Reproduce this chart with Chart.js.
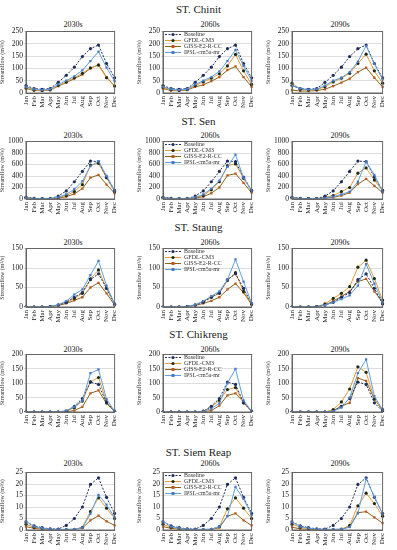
<!DOCTYPE html>
<html>
<head>
<meta charset="utf-8">
<script src="https://cdn.jsdelivr.net/npm/chart.js@4.4.0/dist/chart.umd.min.js"></script>
<style>
  body { margin: 0; background: #fff; width: 397px; height: 550px; position: relative; overflow: hidden; font-family: 'Liberation Serif', serif; }
  .station { position: absolute; left: 0; width: 397px; text-align: center; font-size: 11px; font-weight: normal; color: #222; }
  .period { position: absolute; font-size: 8px; font-weight: normal; color: #222; text-align: center; }
  canvas { position: absolute; }
</style>
</head>
<body>
<script>
const months = ['Jan','Feb','Mar','Apr','May','Jun','Jul','Aug','Sep','Oct','Nov','Dec'];
const periods = ['2030s','2060s','2090s'];
const stations = ['ST. Chinit','ST. Sen','ST. Staung','ST. Chikreng','ST. Siem Reap'];
const seriesNames = ['Baseline','GFDL-CM3','GISS-E2-R-CC','IPSL-cm5a-mr'];
const yMax = [250, 1000, 150, 200, 25];
const yStep = [50, 200, 50, 50, 5];

// baseline per station
const chinitBase = [30,18,15,18,43,72,105,148,180,195,120,62];
const senBase = [30,10,5,5,50,140,300,480,660,650,380,150];
const staungBase = [0,0,0,1,5,12,25,37,70,85,48,8];
const chikrengBase = [0,0,0,0,0,2,20,47,104,96,32,3];
const siemBase = [3.5,1.8,1.0,0.5,0.4,2,5,10,19.8,22.7,14.2,7.2];

// future series per station: [2030s, 2060s, 2090s]
const chinitGfdl = [
  [20,12,10,13,30,45,62,80,102,113,62,28],
  [22,13,11,14,30,45,60,78,110,157,90,35],
  [40,15,12,14,25,45,60,80,120,158,90,40]];
const chinitGiss = [
  [18,10,9,12,28,42,58,75,100,115,65,28],
  [18,10,9,12,25,33,48,65,93,108,65,25],
  [12,8,8,10,15,28,42,58,85,103,62,25]];
const chinitIpsl = [
  [25,15,12,15,35,50,68,92,130,168,103,48],
  [25,15,12,15,35,50,65,88,130,175,110,50],
  [30,18,14,16,30,50,62,85,128,192,118,55]];

const senGfdl = [
  [25,8,5,5,25,60,130,250,590,620,370,130],
  [25,8,5,5,25,60,160,300,580,610,360,140],
  [25,8,5,5,30,60,130,200,450,540,330,140]];
const senGiss = [
  [20,5,3,3,15,40,90,180,370,420,250,100],
  [20,5,3,3,15,40,100,200,410,440,280,110],
  [20,5,3,3,15,30,60,110,260,350,230,110]];
const senIpsl = [
  [25,8,5,5,30,80,170,310,570,660,400,150],
  [25,8,5,5,30,80,180,320,560,770,370,150],
  [25,8,5,5,20,40,80,130,300,650,420,130]];

const staungGfdl = [
  [0,0,0,1,5,12,22,35,72,95,48,7],
  [0,0,0,1,5,14,25,35,68,88,40,8],
  [0,0,0,1,8,22,35,52,102,120,73,18]];
const staungGiss = [
  [0,0,0,1,4,9,17,25,50,62,35,5],
  [0,0,0,1,4,9,16,25,45,60,37,6],
  [0,0,0,1,5,15,27,40,65,72,40,12]];
const staungIpsl = [
  [0,0,0,1,6,15,32,45,82,118,55,8],
  [0,0,0,1,6,15,28,40,70,122,65,10],
  [0,0,0,1,5,12,20,30,55,110,60,12]];

const chikrengGfdl = [
  [0,0,0,0,0,3,15,38,105,120,35,3],
  [0,0,0,0,0,3,18,40,78,85,32,3],
  [0,0,0,0,0,8,35,80,157,138,45,8]];
const chikrengGiss = [
  [0,0,0,0,0,1,5,18,65,75,30,2],
  [0,0,0,0,0,1,5,22,58,65,35,2],
  [0,0,0,0,0,5,20,32,118,108,45,5]];
const chikrengIpsl = [
  [0,0,0,0,0,5,18,40,135,148,45,3],
  [0,0,0,0,0,2,12,30,100,150,40,3],
  [0,0,0,0,0,3,15,50,135,183,55,8]];

const siemGfdl = [
  [2.5,1.2,0.6,0.3,0.2,0.2,0.3,1.2,8,14,9.5,5],
  [2.5,1.2,0.6,0.3,0.2,0.2,0.3,1.5,9.2,14,9.5,5],
  [2.5,1.2,0.6,0.3,0.2,0.2,0.4,2,10.5,16,11.5,6]];
const siemGiss = [
  [1.5,0.7,0.4,0.2,0.1,0.1,0.2,0.8,4.2,6.2,3.8,2],
  [1.5,0.7,0.4,0.2,0.1,0.1,0.2,1,6,7.2,4.2,2],
  [1.2,0.5,0.3,0.2,0.1,0.1,0.2,1.5,7.5,8,5.5,3]];
const siemIpsl = [
  [3.8,1.5,0.8,0.4,0.3,0.3,0.4,1.0,7,15.3,11,5.5],
  [3.8,1.5,0.8,0.4,0.3,0.3,0.4,1.5,6,18.7,13.5,6.5],
  [3.5,1.5,0.8,0.4,0.3,0.3,0.4,1.2,7.2,22.3,14.5,7]];

const baseAll = [chinitBase, senBase, staungBase, chikrengBase, siemBase];
const gfdlAll = [chinitGfdl, senGfdl, staungGfdl, chikrengGfdl, siemGfdl];
const gissAll = [chinitGiss, senGiss, staungGiss, chikrengGiss, siemGiss];
const ipslAll = [chinitIpsl, senIpsl, staungIpsl, chikrengIpsl, siemIpsl];

// layout: plot area edges
const colL = [26, 163, 292];
const colR = [120, 257, 388];
const rowT = [31, 141, 248, 354, 472];
const rowB = [93, 199, 307, 412, 530];
const stationY = [3, 115, 221, 328, 446];
const periodY = [20, 131, 238, 345, 459];

const styles = [
  { line: '#1f2d5a', point: '#1f2d5a', dash: [2, 1.5], shape: 'circle' },
  { line: '#e39b3a', point: '#1e2a14', dash: [], shape: 'circle' },
  { line: '#8a6418', point: '#c0561c', dash: [], shape: 'rect' },
  { line: '#5fa0dc', point: '#4a78c8', dash: [], shape: 'rect' }
];

const serif = "'Liberation Serif', 'DejaVu Serif', serif";

const legendInside = {
  id: 'legendInside',
  afterDatasetsDraw(chart, args, opts) {
    if (!opts.show) return;
    const ctx = chart.ctx;
    const a = chart.chartArea;
    ctx.save();
    ctx.font = '6px ' + serif;
    ctx.textBaseline = 'middle';
    chart.data.datasets.forEach((ds, i) => {
      const y = a.top + 3 + i * 6;
      const x0 = a.left + 2, x1 = a.left + 18;
      ctx.strokeStyle = ds.borderColor;
      ctx.lineWidth = 1;
      ctx.setLineDash(ds.borderDash || []);
      ctx.beginPath(); ctx.moveTo(x0, y); ctx.lineTo(x1, y); ctx.stroke();
      ctx.setLineDash([]);
      ctx.fillStyle = ds.pointBackgroundColor;
      const cx = (x0 + x1) / 2;
      if (ds.pointStyle === 'rect') ctx.fillRect(cx - 1.5, y - 1.5, 3, 3);
      else { ctx.beginPath(); ctx.arc(cx, y, 1.6, 0, Math.PI * 2); ctx.fill(); }
      ctx.fillStyle = '#333';
      ctx.fillText(ds.label, x1 + 3, y);
    });
    ctx.restore();
  }
};

const yW = 27, padTop = 5, padRight = 4, xH = 20;

stations.forEach((name, r) => {
  const st = document.createElement('div');
  st.className = 'station';
  st.style.top = stationY[r] + 'px';
  st.textContent = name;
  document.body.appendChild(st);

  periods.forEach((p, c) => {
    const L = colL[c], R = colR[c], T = rowT[r], B = rowB[r];

    const pt = document.createElement('div');
    pt.className = 'period';
    pt.style.left = L + 'px';
    pt.style.width = (R - L) + 'px';
    pt.style.top = periodY[r] + 'px';
    pt.textContent = p;
    document.body.appendChild(pt);

    const cv = document.createElement('canvas');
    cv.width = (R - L) + yW + padRight;
    cv.height = (B - T) + padTop + xH;
    cv.style.left = (L - yW) + 'px';
    cv.style.top = (T - padTop) + 'px';
    document.body.appendChild(cv);

    const series = [baseAll[r], gfdlAll[r][c], gissAll[r][c], ipslAll[r][c]];
    const order = [1, 2, 3, 0];
    const datasets = series.map((d, i) => ({
      label: seriesNames[i],
      data: d,
      borderColor: styles[i].line,
      borderDash: styles[i].dash,
      borderWidth: 1,
      pointStyle: styles[i].shape,
      pointRadius: 1.6,
      pointBackgroundColor: styles[i].point,
      pointBorderColor: styles[i].point,
      pointBorderWidth: 0,
      tension: 0,
      order: order[i]
    }));

    new Chart(cv, {
      type: 'line',
      data: { labels: months, datasets },
      options: {
        responsive: false,
        animation: false,
        layout: { padding: { top: padTop, right: padRight, left: 0, bottom: 0 } },
        plugins: {
          legend: { display: false },
          tooltip: { enabled: false },
          legendInside: { show: c === 1 }
        },
        scales: {
          x: {
            offset: false,
            grid: { display: false, drawTicks: true, tickLength: 2 },
            border: { display: true, color: '#666', width: 1 },
            ticks: {
              autoSkip: false, minRotation: 90, maxRotation: 90,
              padding: 1, color: '#222', font: { family: serif, size: 7 }
            },
            afterFit(s) { s.height = xH; }
          },
          y: {
            min: 0, max: yMax[r],
            grid: { color: '#d4d4d4', lineWidth: 0.8, tickLength: 2 },
            border: { display: true, color: '#666', width: 1 },
            ticks: {
              stepSize: yStep[r], padding: 1, color: '#222',
              autoSkip: false,
              font: { family: serif, size: 7.5 },
              callback: v => String(v)
            },
            title: {
              display: true, text: 'Streamflow (m³/s)', color: '#333',
              font: { family: serif, size: 6 }, padding: 0
            },
            afterFit(s) { s.width = yW; }
          }
        }
      },
      plugins: [legendInside, {
        id: 'frame',
        afterDraw(chart) {
          const a = chart.chartArea, ctx = chart.ctx;
          ctx.save();
          ctx.strokeStyle = '#666';
          ctx.lineWidth = 1;
          ctx.strokeRect(a.left, a.top, a.right - a.left, a.bottom - a.top);
          ctx.restore();
        }
      }]
    });
  });
});
</script>
</body>
</html>
